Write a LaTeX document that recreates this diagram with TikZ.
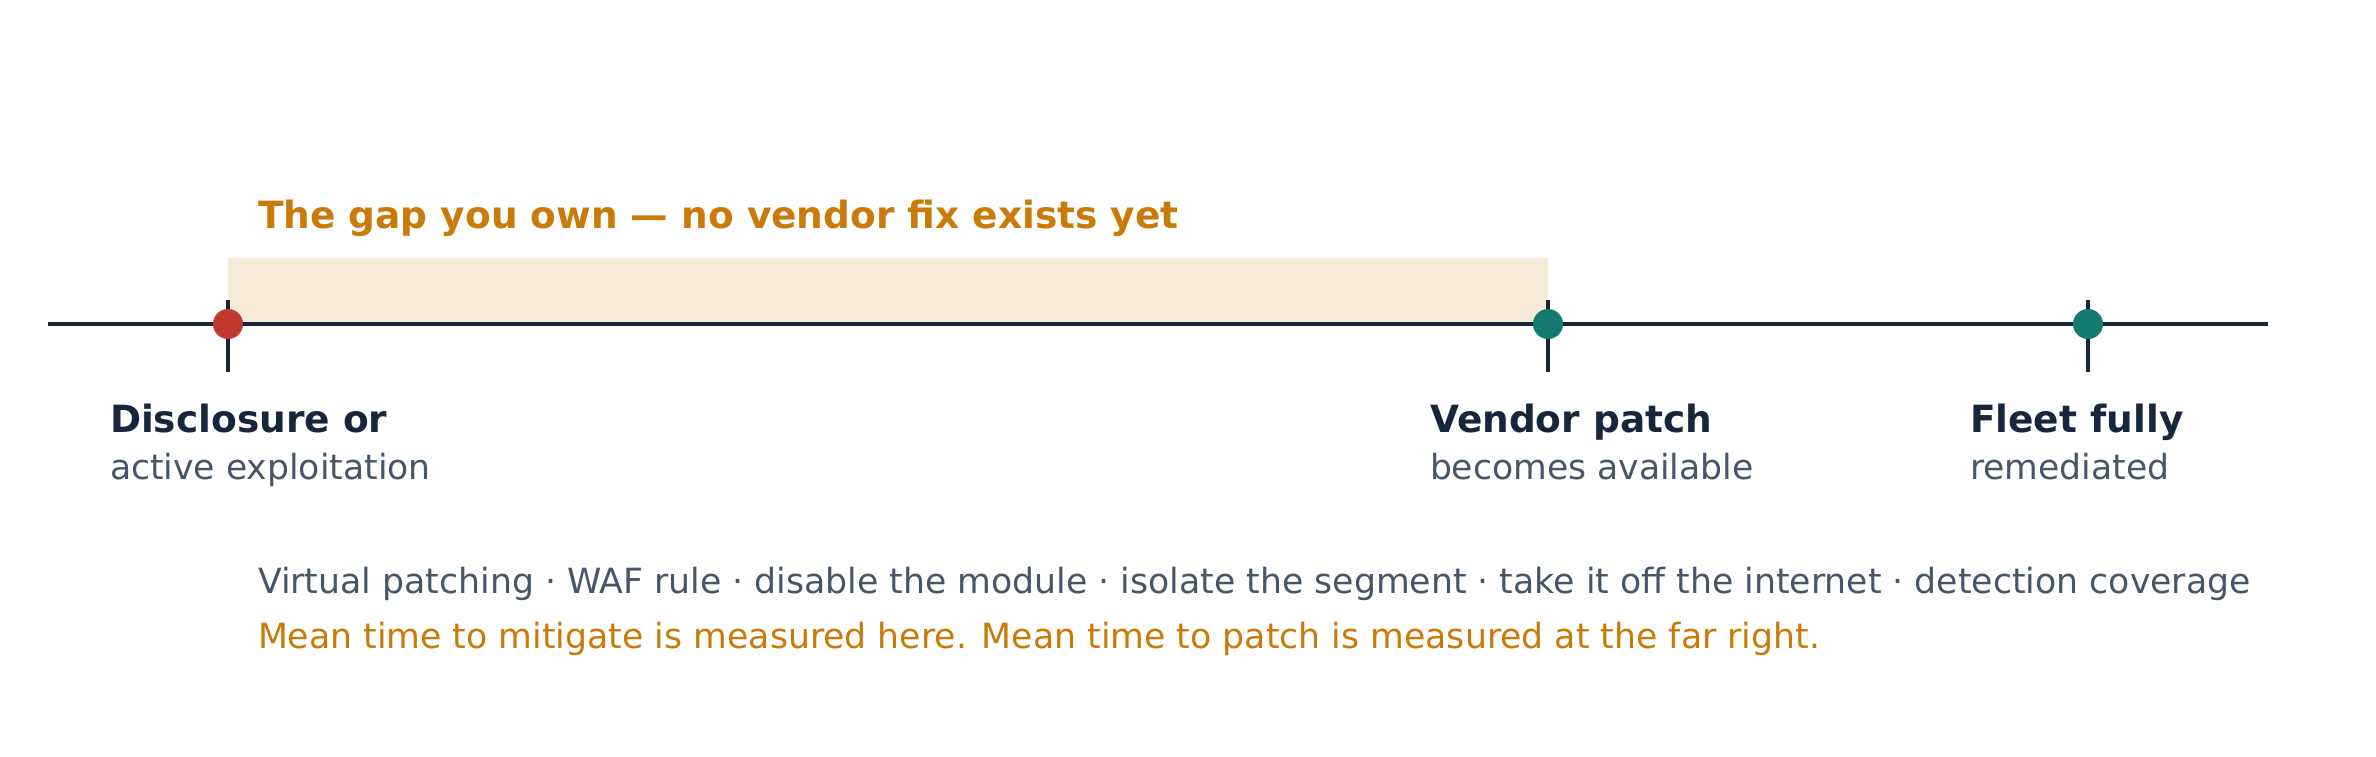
\documentclass[tikz,border=0pt]{standalone}
\usepackage{fontspec}
\setmainfont{DejaVu Sans}
\definecolor{navy}{HTML}{18263D}
\definecolor{slate}{HTML}{475569}
\definecolor{amber}{HTML}{C97A08}
\definecolor{band}{HTML}{F5EAD8}
\definecolor{redpt}{HTML}{C0392B}
\definecolor{tealpt}{HTML}{137A6F}
\tikzset{
  axisline/.style={draw=navy, line width=4pt},
  tickline/.style={draw=navy, line width=4pt},
  dot/.style={circle, minimum size=30pt, inner sep=0pt, draw=none},
  txt/.style={anchor=base west, inner sep=0pt, outer sep=0pt},
  title/.style={txt, text=amber, font=\fontsize{37.5}{44}\selectfont\bfseries},
  lbl/.style={txt, text=navy, font=\fontsize{37.5}{44}\selectfont\bfseries},
  sub/.style={txt, text=slate, font=\fontsize{34.6}{41}\selectfont},
  note/.style={txt, font=\fontsize{34.7}{41}\selectfont},
}
\begin{document}
\begin{tikzpicture}[x=1pt, y=-1pt]
\useasboundingbox (0,0) rectangle (2376,756);
% gap band
\fill[band] (228,258) rectangle (1548,324);
% axis
\coordinate (axL) at (48,324);
\coordinate (axR) at (2268,324);
\draw[axisline] (axL) -- (axR);
% ticks
\coordinate (t1a) at (228,300); \coordinate (t1b) at (228,372);
\coordinate (t2a) at (1548,300); \coordinate (t2b) at (1548,372);
\coordinate (t3a) at (2088,300); \coordinate (t3b) at (2088,372);
\draw[tickline] (t1a) -- (t1b);
\draw[tickline] (t2a) -- (t2b);
\draw[tickline] (t3a) -- (t3b);
% dots
\node[dot, fill=redpt] (d1) at (228,324) {};
\node[dot, fill=tealpt] (d2) at (1548,324) {};
\node[dot, fill=tealpt] (d3) at (2088,324) {};
% title
\node[title] (ttl) at (258,228) {The gap you own — no vendor fix exists yet};
% labels
\node[lbl] (l1) at (110,432) {Disclosure or};
\node[sub] (s1) at (110,479) {active exploitation};
\node[lbl] (l2) at (1430,432) {Vendor patch};
\node[sub] (s2) at (1430,479) {becomes available};
\node[lbl] (l3) at (1970,432) {Fleet fully};
\node[sub] (s3) at (1970,479) {remediated};
% notes
\node[note, text=slate] (n1) at (258,593) {Virtual patching · WAF rule · disable the module · isolate the segment · take it off the internet · detection coverage};
\node[note, text=amber] (n2) at (258,648) {Mean time to mitigate is measured here. Mean time to patch is measured at the far right.};
\end{tikzpicture}
\end{document}
